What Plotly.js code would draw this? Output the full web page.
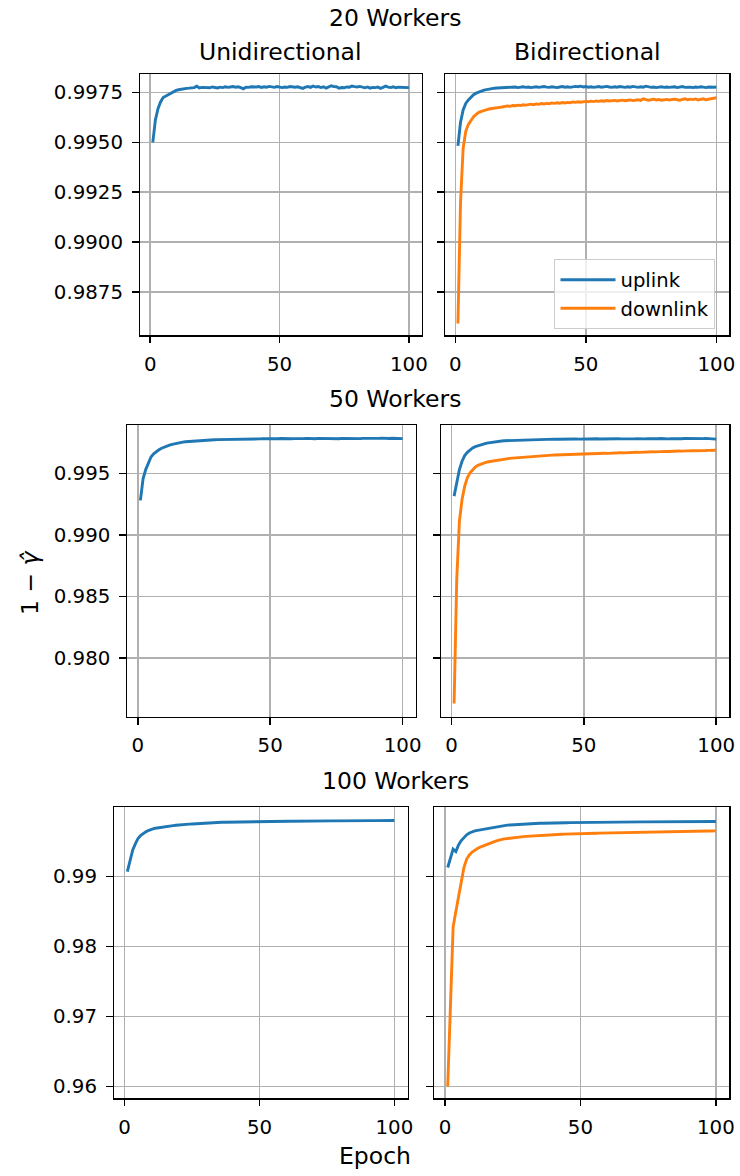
<!DOCTYPE html>
<html>
<head>
<meta charset="utf-8">
<script src="https://cdn.plot.ly/plotly-3.0.1.min.js"></script>
<style>html,body{margin:0;padding:0;background:#fff;}#chart{width:740px;height:1176px;}</style>
</head>
<body>
<div id="chart"></div>
<script>
const epochs = [1,2,3,4,5,6,7,8,9,10,11,12,13,14,15,16,17,18,19,20,21,22,23,24,25,26,27,28,29,30,31,32,33,34,35,36,37,38,39,40,41,42,43,44,45,46,47,48,49,50,51,52,53,54,55,56,57,58,59,60,61,62,63,64,65,66,67,68,69,70,71,72,73,74,75,76,77,78,79,80,81,82,83,84,85,86,87,88,89,90,91,92,93,94,95,96,97,98,99,100];

const panelTitles = ["Unidirectional", "Bidirectional"];
const rowTitles = ["20 Workers", "50 Workers", "100 Workers"];
const seriesNames = ["uplink", "downlink"];
const xLabel = "Epoch";
const yLabel = "1 − <i>γ̂</i>";
const xTicks = [0, 50, 100];
const yTicks20 = [0.9875, 0.9900, 0.9925, 0.9950, 0.9975];
const yTicks50 = [0.980, 0.985, 0.990, 0.995];
const yTicks100 = [0.96, 0.97, 0.98, 0.99];

// 20 workers, unidirectional (uplink)
const uni20 = [0.99500,0.99612,0.99668,0.99702,0.99724,0.99731,0.99738,0.99747,0.99754,0.99760,0.99763,0.99766,0.99768,0.99770,0.99771,0.99773,0.99774,0.99781,0.99772,0.99775,
0.99774,0.99776,0.99773,0.99777,0.99775,0.99772,0.99776,0.99774,0.99778,0.99775,0.99777,0.99779,0.99776,0.99778,0.99774,0.99768,0.99776,0.99775,0.99778,0.99776,
0.99777,0.99779,0.99775,0.99778,0.99776,0.99780,0.99776,0.99775,0.99779,0.99776,0.99774,0.99777,0.99775,0.99779,0.99777,0.99776,0.99778,0.99775,0.99770,0.99776,
0.99779,0.99775,0.99782,0.99777,0.99779,0.99774,0.99778,0.99771,0.99776,0.99783,0.99779,0.99778,0.99771,0.99774,0.99773,0.99777,0.99776,0.99782,0.99779,0.99777,
0.99780,0.99776,0.99773,0.99777,0.99771,0.99775,0.99774,0.99777,0.99770,0.99775,0.99781,0.99776,0.99774,0.99778,0.99773,0.99776,0.99775,0.99777,0.99773,0.99774];

// 20 workers, bidirectional
const bi20Up = [0.99482,0.99600,0.99662,0.99695,0.99712,0.99727,0.99738,0.99746,0.99752,0.99757,0.99761,0.99764,0.99767,0.99769,0.99771,0.99772,0.99773,0.99774,0.99775,0.99774,
0.99776,0.99775,0.99777,0.99774,0.99776,0.99778,0.99775,0.99777,0.99774,0.99776,0.99778,0.99775,0.99777,0.99779,0.99776,0.99775,0.99778,0.99776,0.99774,0.99777,
0.99779,0.99776,0.99778,0.99775,0.99777,0.99780,0.99778,0.99781,0.99777,0.99779,0.99776,0.99778,0.99775,0.99777,0.99779,0.99776,0.99778,0.99780,0.99777,0.99775,
0.99778,0.99776,0.99779,0.99777,0.99775,0.99778,0.99776,0.99780,0.99777,0.99775,0.99778,0.99776,0.99781,0.99777,0.99775,0.99777,0.99774,0.99776,0.99778,0.99775,
0.99777,0.99775,0.99776,0.99778,0.99774,0.99776,0.99779,0.99775,0.99777,0.99776,0.99774,0.99777,0.99775,0.99778,0.99776,0.99774,0.99777,0.99775,0.99776,0.99777];
const bi20Down = [0.98593,0.99200,0.99470,0.99555,0.99590,0.99612,0.99628,0.99640,0.99650,0.99655,0.99660,0.99664,0.99667,0.99669,0.99672,0.99673,0.99675,0.99677,0.99679,0.99682,
0.99680,0.99684,0.99683,0.99686,0.99684,0.99688,0.99686,0.99689,0.99691,0.99688,0.99692,0.99690,0.99694,0.99692,0.99695,0.99693,0.99697,0.99695,0.99698,0.99696,
0.99699,0.99697,0.99700,0.99698,0.99702,0.99700,0.99703,0.99701,0.99704,0.99705,0.99703,0.99706,0.99704,0.99707,0.99705,0.99708,0.99706,0.99709,0.99707,0.99708,
0.99710,0.99707,0.99709,0.99711,0.99708,0.99710,0.99712,0.99709,0.99711,0.99713,0.99710,0.99718,0.99714,0.99711,0.99713,0.99716,0.99712,0.99714,0.99711,0.99713,
0.99715,0.99712,0.99714,0.99716,0.99713,0.99711,0.99715,0.99718,0.99713,0.99716,0.99714,0.99717,0.99712,0.99715,0.99718,0.99713,0.99716,0.99719,0.99721,0.99723];

// 50 workers, unidirectional
const uni50 = [0.99281,0.99457,0.99532,0.99592,0.99635,0.99660,0.99678,0.99693,0.99706,0.99716,0.99724,0.99731,0.99737,0.99743,0.99749,0.99753,0.99756,0.99759,0.99761,0.99763,
0.99765,0.99767,0.99769,0.99770,0.99771,0.99772,0.99773,0.99774,0.99775,0.99776,0.99776,0.99777,0.99778,0.99777,0.99779,0.99779,0.99778,0.99780,0.99779,0.99781,
0.99780,0.99781,0.99780,0.99782,0.99781,0.99782,0.99783,0.99782,0.99784,0.99783,0.99782,0.99784,0.99783,0.99785,0.99783,0.99784,0.99785,0.99783,0.99784,0.99783,
0.99784,0.99783,0.99785,0.99786,0.99784,0.99785,0.99783,0.99786,0.99785,0.99784,0.99785,0.99784,0.99786,0.99784,0.99785,0.99783,0.99786,0.99785,0.99784,0.99786,
0.99785,0.99787,0.99785,0.99784,0.99786,0.99785,0.99787,0.99786,0.99785,0.99787,0.99786,0.99788,0.99786,0.99787,0.99785,0.99787,0.99786,0.99785,0.99784,0.99784];

// 50 workers, bidirectional
const bi50Up = [0.99316,0.99438,0.99532,0.99600,0.99646,0.99673,0.99694,0.99708,0.99719,0.99727,0.99734,0.99740,0.99745,0.99750,0.99754,0.99757,0.99760,0.99763,0.99765,0.99767,
0.99768,0.99769,0.99770,0.99771,0.99772,0.99773,0.99773,0.99774,0.99775,0.99776,0.99776,0.99777,0.99777,0.99778,0.99778,0.99779,0.99778,0.99779,0.99780,0.99779,
0.99780,0.99781,0.99780,0.99781,0.99780,0.99782,0.99781,0.99780,0.99781,0.99782,0.99780,0.99781,0.99782,0.99781,0.99783,0.99781,0.99782,0.99780,0.99782,0.99781,
0.99782,0.99781,0.99783,0.99782,0.99781,0.99783,0.99782,0.99784,0.99782,0.99783,0.99781,0.99783,0.99782,0.99784,0.99783,0.99782,0.99784,0.99783,0.99785,0.99783,
0.99784,0.99782,0.99784,0.99783,0.99785,0.99784,0.99783,0.99785,0.99784,0.99786,0.99784,0.99785,0.99783,0.99785,0.99784,0.99786,0.99785,0.99783,0.99778,0.99780];
const bi50Down = [0.97627,0.98640,0.99110,0.99289,0.99397,0.99465,0.99505,0.99532,0.99552,0.99567,0.99577,0.99585,0.99591,0.99596,0.99600,0.99605,0.99609,0.99612,0.99616,0.99619,
0.99621,0.99623,0.99625,0.99627,0.99629,0.99631,0.99633,0.99635,0.99637,0.99640,0.99641,0.99642,0.99644,0.99645,0.99646,0.99648,0.99649,0.99650,0.99651,0.99652,
0.99653,0.99654,0.99655,0.99655,0.99656,0.99657,0.99658,0.99657,0.99658,0.99659,0.99660,0.99661,0.99660,0.99662,0.99663,0.99662,0.99664,0.99665,0.99664,0.99666,
0.99667,0.99666,0.99668,0.99669,0.99668,0.99670,0.99671,0.99670,0.99672,0.99673,0.99672,0.99674,0.99675,0.99674,0.99675,0.99677,0.99676,0.99678,0.99679,0.99678,
0.99680,0.99679,0.99681,0.99682,0.99681,0.99683,0.99682,0.99684,0.99685,0.99684,0.99686,0.99685,0.99687,0.99686,0.99688,0.99687,0.99688,0.99689,0.99688,0.99689];

// 100 workers, unidirectional
const uni100 = [0.99071,0.99214,0.99381,0.99470,0.99548,0.99590,0.99620,0.99643,0.99661,0.99677,0.99687,0.99695,0.99702,0.99708,0.99714,0.99719,0.99724,0.99728,0.99733,0.99738,
0.99741,0.99744,0.99747,0.99750,0.99752,0.99755,0.99757,0.99760,0.99763,0.99766,0.99768,0.99770,0.99772,0.99773,0.99775,0.99776,0.99777,0.99778,0.99779,0.99780,
0.99781,0.99782,0.99782,0.99783,0.99784,0.99784,0.99785,0.99785,0.99786,0.99786,0.99787,0.99787,0.99788,0.99788,0.99788,0.99789,0.99789,0.99790,0.99790,0.99790,
0.99791,0.99791,0.99792,0.99792,0.99792,0.99793,0.99793,0.99793,0.99794,0.99794,0.99794,0.99795,0.99795,0.99795,0.99796,0.99796,0.99796,0.99796,0.99797,0.99797,
0.99797,0.99797,0.99798,0.99798,0.99798,0.99798,0.99799,0.99799,0.99799,0.99799,0.99800,0.99800,0.99800,0.99800,0.99800,0.99801,0.99801,0.99801,0.99801,0.99801];

// 100 workers, bidirectional
const bi100Up = [0.99129,0.99262,0.99391,0.99357,0.99453,0.99515,0.99563,0.99597,0.99623,0.99643,0.99652,0.99660,0.99667,0.99673,0.99681,0.99690,0.99698,0.99706,0.99714,0.99722,
0.99727,0.99731,0.99735,0.99738,0.99741,0.99744,0.99746,0.99748,0.99751,0.99753,0.99755,0.99757,0.99758,0.99760,0.99761,0.99762,0.99764,0.99765,0.99766,0.99767,
0.99768,0.99768,0.99769,0.99770,0.99770,0.99771,0.99771,0.99772,0.99772,0.99773,0.99773,0.99774,0.99774,0.99775,0.99775,0.99775,0.99776,0.99776,0.99777,0.99777,
0.99777,0.99778,0.99778,0.99778,0.99779,0.99779,0.99779,0.99780,0.99780,0.99780,0.99781,0.99781,0.99781,0.99782,0.99782,0.99782,0.99782,0.99783,0.99783,0.99783,
0.99783,0.99784,0.99784,0.99784,0.99784,0.99785,0.99785,0.99785,0.99785,0.99785,0.99786,0.99786,0.99786,0.99786,0.99786,0.99787,0.99787,0.99787,0.99787,0.99787];
const bi100Down = [0.96000,0.97150,0.98280,0.98500,0.98700,0.98950,0.99130,0.99250,0.99310,0.99350,0.99382,0.99402,0.99420,0.99437,0.99453,0.99466,0.99480,0.99495,0.99510,0.99524,
0.99532,0.99539,0.99545,0.99550,0.99555,0.99559,0.99563,0.99567,0.99571,0.99575,0.99578,0.99581,0.99584,0.99587,0.99589,0.99592,0.99594,0.99596,0.99598,0.99600,
0.99602,0.99603,0.99605,0.99606,0.99608,0.99609,0.99610,0.99612,0.99613,0.99614,0.99615,0.99616,0.99617,0.99618,0.99619,0.99620,0.99621,0.99622,0.99623,0.99624,
0.99625,0.99626,0.99627,0.99627,0.99628,0.99629,0.99630,0.99631,0.99631,0.99632,0.99633,0.99634,0.99634,0.99635,0.99636,0.99637,0.99637,0.99638,0.99639,0.99640,
0.99640,0.99641,0.99642,0.99642,0.99643,0.99644,0.99644,0.99645,0.99646,0.99646,0.99647,0.99648,0.99648,0.99649,0.99650,0.99650,0.99651,0.99651,0.99652,0.99653];

const BLUE = '#1f77b4', ORANGE = '#ff7f0e';
const FONT = 'DejaVu Sans';
const W = 740, H = 1176;

function line(y, name, color, xa, ya, showlegend) {
  return {x: epochs, y: y, type: 'scatter', mode: 'lines', name: name,
    line: {color: color, width: 2.9}, xaxis: xa, yaxis: ya, showlegend: showlegend, hoverinfo: 'x+y'};
}

const data = [
  line(uni20, seriesNames[0], BLUE, 'x', 'y', false),
  line(bi20Up, seriesNames[0], BLUE, 'x2', 'y2', true),
  line(bi20Down, seriesNames[1], ORANGE, 'x2', 'y2', true),
  line(uni50, seriesNames[0], BLUE, 'x3', 'y3', false),
  line(bi50Up, seriesNames[0], BLUE, 'x4', 'y4', false),
  line(bi50Down, seriesNames[1], ORANGE, 'x4', 'y4', false),
  line(uni100, seriesNames[0], BLUE, 'x5', 'y5', false),
  line(bi100Up, seriesNames[0], BLUE, 'x6', 'y6', false),
  line(bi100Down, seriesNames[1], ORANGE, 'x6', 'y6', false)
];

function px(a, b) { return [a / W, b / W]; }
function py(top, bottom) { return [1 - bottom / H, 1 - top / H]; }

const tickFont = {family: FONT, size: 19.8, color: 'black'};
function xax(dom, anchor) {
  return {domain: dom, anchor: anchor, range: [-3.95, 104.95], tickvals: xTicks,
    showline: true, mirror: true, linecolor: 'black', linewidth: 1.5,
    ticks: 'outside', ticklen: 6.5, tickwidth: 1.5, tickcolor: 'black',
    showgrid: true, gridcolor: '#b0b0b0', gridwidth: 1.5, zeroline: false,
    tickfont: tickFont, ticklabelstandoff: 4, fixedrange: true};
}
function yax(dom, anchor, range, ticks, fmt, labels) {
  return {domain: dom, anchor: anchor, range: range, tickvals: ticks, tickformat: fmt,
    showticklabels: labels,
    showline: true, mirror: true, linecolor: 'black', linewidth: 1.5,
    ticks: 'outside', ticklen: 6.5, tickwidth: 1.5, tickcolor: 'black',
    showgrid: true, gridcolor: '#b0b0b0', gridwidth: 1.5, zeroline: false,
    tickfont: tickFont, ticklabelstandoff: 5, fixedrange: true};
}

const r1 = py(74, 335), r2 = py(425, 716.7), r3 = py(807.3, 1098.3);
const range20 = [0.98535, 0.99842], range50 = [0.97520, 0.99895], range100 = [0.95830, 0.99990];

const titleFont = {family: FONT, size: 23.5, color: 'black'};
function ann(text, xp, yp, extra) {
  return Object.assign({text: text, xref: 'paper', yref: 'paper', x: xp / W, y: 1 - yp / H,
    xanchor: 'center', yanchor: 'middle', showarrow: false, font: titleFont}, extra || {});
}

const layout = {
  width: W, height: H,
  margin: {l: 0, r: 0, t: 0, b: 0},
  paper_bgcolor: 'white', plot_bgcolor: 'white',
  font: {family: FONT, color: 'black'},
  xaxis: xax(px(140, 421.7), 'y'),
  yaxis: yax(r1, 'x', range20, yTicks20, '.4f', true),
  xaxis2: xax(px(445, 729.3), 'y2'),
  yaxis2: yax(r1, 'x2', range20, yTicks20, '.4f', false),
  xaxis3: xax(px(127.3, 415.7), 'y3'),
  yaxis3: yax(r2, 'x3', range50, yTicks50, '.3f', true),
  xaxis4: xax(px(441, 729.3), 'y4'),
  yaxis4: yax(r2, 'x4', range50, yTicks50, '.3f', false),
  xaxis5: xax(px(114, 407.7), 'y5'),
  yaxis5: yax(r3, 'x5', range100, yTicks100, '.2f', true),
  xaxis6: xax(px(434.3, 729.3), 'y6'),
  yaxis6: yax(r3, 'x6', range100, yTicks100, '.2f', false),
  showlegend: true,
  legend: {x: 554.3 / W, y: 1 - 259.3 / H, xanchor: 'left', yanchor: 'top',
    bgcolor: 'rgba(255,255,255,0.8)', bordercolor: '#cccccc', borderwidth: 1.2,
    font: {family: FONT, size: 19.6, color: 'black'}, itemwidth: 55},
  annotations: [
    ann(rowTitles[0], 395.3, 18),
    ann(panelTitles[0], 280.9, 52),
    ann(panelTitles[1], 587.2, 52),
    ann(rowTitles[1], 395.3, 399),
    ann(rowTitles[2], 395.3, 781),
    ann(xLabel, 375, 1156),
    ann(yLabel, 30, 583, {textangle: -90})
  ]
};

Plotly.newPlot('chart', data, layout, {displayModeBar: false, staticPlot: true});
</script>
</body>
</html>
